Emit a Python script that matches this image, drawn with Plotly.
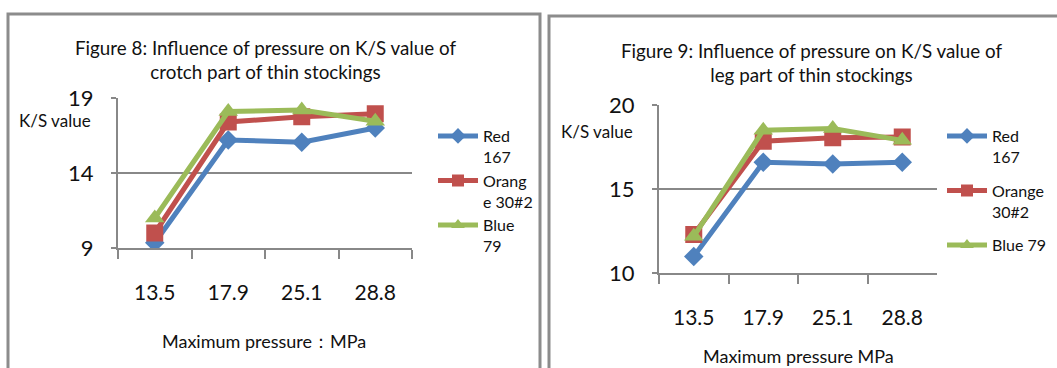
import plotly.graph_objects as go

W, H = 1057, 368

pressure = ["13.5", "17.9", "25.1", "28.8"]
series_names_fig8 = ["Red<br>167", "Orang<br>e 30#2", "Blue<br>79"]
series_names_fig9 = ["Red<br>167", "Orange<br>30#2", "Blue 79"]
crotch_red = [9.35, 16.2, 16.05, 17.0]
crotch_orange = [10.0, 17.4, 17.75, 17.95]
crotch_blue = [11.0, 18.1, 18.2, 17.45]
leg_red = [11.0, 16.6, 16.5, 16.6]
leg_orange = [12.3, 17.85, 18.05, 18.1]
leg_blue = [12.2, 18.5, 18.6, 17.9]

colors = ["#4F81BD", "#C0504D", "#9BBB59"]
symbols = ["diamond", "square", "triangle-up"]
sizes = [15, 17, 17]
FONT = "Lato"
GRID = "#888888"


def px(x):
    return x / W


def py(y):
    return 1 - y / H


fig = go.Figure()

for i, (vals, name) in enumerate(zip([crotch_red, crotch_orange, crotch_blue], series_names_fig8)):
    fig.add_trace(go.Scatter(
        x=pressure, y=vals, name=name, mode="lines+markers",
        line=dict(color=colors[i], width=5),
        marker=dict(symbol=symbols[i], size=sizes[i], color=colors[i]),
        xaxis="x", yaxis="y", legend="legend", legendgroup="a%d" % i,
    ))

for i, (vals, name) in enumerate(zip([leg_red, leg_orange, leg_blue], series_names_fig9)):
    fig.add_trace(go.Scatter(
        x=pressure, y=vals, name=name, mode="lines+markers",
        line=dict(color=colors[i], width=5),
        marker=dict(symbol=symbols[i], size=sizes[i], color=colors[i]),
        xaxis="x2", yaxis="y2", legend="legend2", legendgroup="b%d" % i,
    ))

xcommon = dict(type="category", range=[-0.5, 3.5], tickson="boundaries", ticks="outside",
               ticklen=9, tickcolor=GRID, tickwidth=2, showline=True, linecolor=GRID, linewidth=2,
               showgrid=False, tickfont=dict(family=FONT, size=21, color="#111"),
               fixedrange=True)
ycommon = dict(ticks="outside", ticklen=5, tickcolor=GRID, tickwidth=2, showline=True,
               linecolor=GRID, linewidth=2, showgrid=True, gridcolor=GRID, gridwidth=2,
               zeroline=False, tickfont=dict(family=FONT, size=22, color="#111"),
               ticklabelstandoff=13, fixedrange=True)

legend_common = dict(xanchor="left", yanchor="top", valign="top", itemwidth=40,
                     font=dict(family=FONT, size=16, color="#111"),
                     itemsizing="constant", bgcolor="rgba(0,0,0,0)")

fig.update_layout(
    width=W, height=H, margin=dict(l=0, r=0, t=0, b=0, autoexpand=False),
    paper_bgcolor="white", plot_bgcolor="white",
    xaxis=dict(domain=[px(118), px(412)], anchor="y", ticklabelstandoff=25, **xcommon),
    yaxis=dict(domain=[py(248), py(98)], anchor="x", range=[9, 19], tickvals=[9, 14, 19], **ycommon),
    xaxis2=dict(domain=[px(659), px(937)], anchor="y2", ticklabelstandoff=24, **xcommon),
    yaxis2=dict(domain=[py(273.3), py(105)], anchor="x2", range=[10, 20], tickvals=[10, 15, 20], **ycommon),
    legend=dict(x=px(433), y=py(119), tracegroupgap=0, **legend_common),
    legend2=dict(x=px(942), y=py(119), tracegroupgap=10, **legend_common),
    showlegend=True,
)


def note(x, y, text, size):
    fig.add_annotation(x=px(x), y=py(y), xref="paper", yref="paper", showarrow=False,
                       xanchor="center", yanchor="middle", align="center", text=text,
                       font=dict(family=FONT, size=size, color="#111"))


note(265, 59.5, "Figure 8: Influence of pressure on K/S value of<br>crotch part of thin stockings", 18.8)
note(811, 62.5, "Figure 9: Influence of pressure on K/S value of<br>leg part of thin stockings", 18.8)
note(55, 121, "K/S value", 17)
note(597, 131, "K/S value", 17)
note(264, 341, "Maximum pressure：MPa", 18)
note(798, 356, "Maximum pressure MPa", 18)

border = dict(color="#8C8C8C", width=3)
fig.add_shape(type="path", xref="paper", yref="paper",
              path="M %f,%f L %f,%f L %f,%f L %f,%f" % (px(8), -0.1, px(8), py(14), px(540), py(14), px(540), -0.1),
              line=border)
fig.add_shape(type="path", xref="paper", yref="paper",
              path="M %f,%f L %f,%f L %f,%f" % (px(549), -0.1, px(549), py(16), 1.1, py(16)),
              line=border)

fig.write_html("out.html", config={"displayModeBar": False},
               post_script="document.body.style.margin='0px';document.body.style.overflow='hidden';")
